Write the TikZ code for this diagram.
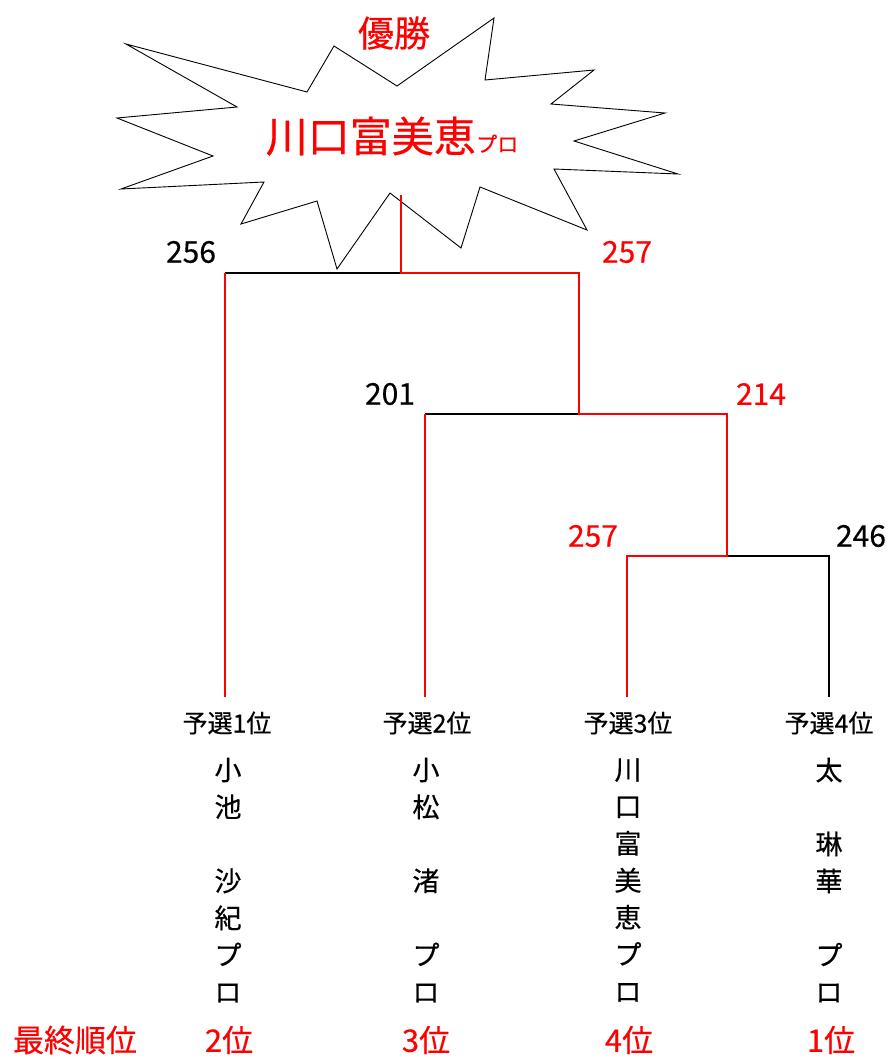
\documentclass[tikz,border=0pt]{standalone}
\usepackage{fontspec}
\setmainfont{Noto Sans CJK JP}[FakeBold=0.4,AutoFakeBold=0.4]
\definecolor{rd}{RGB}{255,0,0}
\begin{document}
\begin{tikzpicture}[x=1pt,y=-1pt,
  redline/.style={draw=rd,line width=2.5pt},
  blackline/.style={draw=black,line width=1.6pt},
  score/.style={font=\fontsize{30}{32}\selectfont\bfseries,inner sep=0pt},
  qual/.style={font=\fontsize{25}{28}\selectfont\bfseries,inner sep=0pt},
  namecol/.style={font=\fontsize{27}{37}\selectfont\bfseries,inner sep=0pt,align=center},
  rank/.style={font=\fontsize{31}{34}\selectfont\bfseries,text=rd,inner sep=0pt}]
\useasboundingbox (0,0) rectangle (890,1060);
% starburst
\draw[line width=0.9pt,fill=white] (126,44) -- (307,92) -- (334,46) -- (397,86) -- (494,18) -- (485,80) -- (594,70) -- (551,104) -- (665,113) -- (574,141) -- (678,174) -- (554,169) -- (587,230) -- (480,187) -- (461,248) -- (390,193) -- (337,269) -- (317,201) -- (241,224) -- (264,182) -- (121,189) -- (213,156) -- (117,118) -- (237,107) -- cycle;
\node[font=\fontsize{36}{38}\selectfont\bfseries,text=rd,inner sep=0pt] (win) at (394,33) {優勝};
\node[font=\fontsize{42}{44}\selectfont\bfseries,text=rd,inner sep=0pt,anchor=base east] (champ) at (476,152) {川口富美恵};
\node[font=\fontsize{21}{24}\selectfont\bfseries,text=rd,inner sep=0pt,anchor=base west] (pro) at (champ.base east) {プロ};
% junction coordinates
\coordinate (c0) at (401,195);
\coordinate (j0) at (401,273);
\coordinate (a1) at (225,273);
\coordinate (r1) at (579,273);
\coordinate (j1) at (579,414);
\coordinate (b1) at (425,414);
\coordinate (r2) at (727,414);
\coordinate (j2) at (727,556);
\coordinate (c1) at (627,556);
\coordinate (d1) at (829,556);
\coordinate (ae) at (225,697);
\coordinate (be) at (425,697);
\coordinate (ce) at (627,697);
\coordinate (de) at (829,697);
% black segments
\draw[blackline] (a1) -- (j0);
\draw[blackline] (b1) -- (j1);
\draw[blackline] (j2) -- (d1) -- (de);
% red segments
\draw[redline] (c0) -- (j0) -- (r1) -- (j1) -- (r2) -- (j2) -- (c1) -- (ce);
\draw[redline] (a1) -- (ae);
\draw[redline] (b1) -- (be);
% scores
\node[score] (s1) at (191,252) {256};
\node[score,text=rd] (s2) at (627,252) {257};
\node[score] (s3) at (390,394) {201};
\node[score,text=rd] (s4) at (761,394) {214};
\node[score,text=rd] (s5) at (593,536) {257};
\node[score] (s6) at (861,536) {246};
% qualifying
\node[qual] (q1) at (227,723) {予選1位};
\node[qual] (q2) at (427,723) {予選2位};
\node[qual] (q3) at (628,723) {予選3位};
\node[qual] (q4) at (829,723) {予選4位};
% names
\node[namecol] (n1) at (228,880) {小\\池\\\phantom{小}\\沙\\紀\\プ\\ロ};
\node[namecol] (n2) at (426,880) {小\\松\\\phantom{小}\\渚\\\phantom{小}\\プ\\ロ};
\node[namecol] (n3) at (628,880) {川\\口\\富\\美\\恵\\プ\\ロ};
\node[namecol] (n4) at (829,880) {太\\\phantom{小}\\琳\\華\\\phantom{小}\\プ\\ロ};
% final ranks
\node[rank] (fr) at (75,1040) {最終順位};
\node[rank] (f1) at (229,1040) {2位};
\node[rank] (f2) at (426,1040) {3位};
\node[rank] (f3) at (629,1040) {4位};
\node[rank] (f4) at (831,1040) {1位};
\end{tikzpicture}
\end{document}
